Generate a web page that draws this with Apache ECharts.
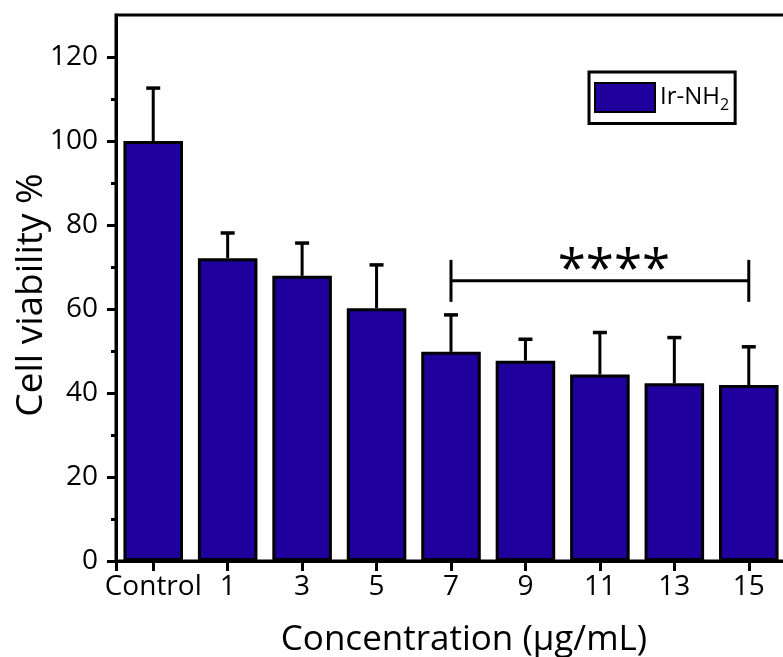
<!DOCTYPE html>
<html>
<head>
<meta charset="utf-8">
<script src="https://cdn.jsdelivr.net/npm/echarts@6/dist/echarts.min.js"></script>
<style>
  html, body { margin: 0; padding: 0; background: #fff; }
  #chart { width: 783px; height: 657px; }
</style>
</head>
<body>
<div id="chart"></div>
<script>
// Cell viability of Ir-NH2 at increasing concentrations (mean ± SD)
const categories = ['Control', '1', '3', '5', '7', '9', '11', '13', '15'];
const viability = [100, 72.1, 67.9, 60.2, 49.8, 47.7, 44.4, 42.3, 41.9];
const errors = [12.6, 6.0, 7.8, 10.3, 8.8, 5.1, 10.0, 10.9, 9.1];
const yMajorTicks = [0, 20, 40, 60, 80, 100, 120];
const yMinorTicks = [10, 30, 50, 70, 90, 110];
// significance bracket: from category index to category index, at value level
const bracketFrom = 4;
const bracketTo = 8;
const bracketLevel = 66.7;
const bracketArm = 5;
const bracketLabel = '****';

const FONT = 'Open Sans';
const BAR_COLOR = '#1f009c';

const idx = categories.map((_, i) => i);
const barData = idx.map(i => [i, viability[i]]);
const errData = idx.map(i => [i, viability[i], viability[i] + errors[i]]);

const chart = echarts.init(document.getElementById('chart'), null, { renderer: 'canvas' });

chart.setOption({
  animation: false,
  backgroundColor: '#fff',
  grid: {
    left: 116, top: 15, width: 670, height: 546,
    outerBoundsMode: 'none',
    containLabel: false,
    show: true, borderColor: '#000', borderWidth: 3
  },
  legend: {
    left: 589, top: 72,
    orient: 'vertical',
    padding: [10, 6, 10, 5],
    borderColor: '#000', borderWidth: 3,
    itemWidth: 60, itemHeight: 29, itemGap: 0,
    data: [{ name: 'Ir-NH2', icon: 'rect' }],
    formatter: () => '{a|Ir-NH}{b|2}',
    textStyle: {
      rich: {
        a: { fontFamily: FONT, fontSize: 24, color: '#000' },
        b: { fontFamily: FONT, fontSize: 16, color: '#000', padding: [16, 0, 0, 0] }
      }
    }
  },
  xAxis: [{
    type: 'value',
    min: -0.5, max: 8.5,
    splitLine: { show: false },
    axisLine: { show: true, onZero: false, lineStyle: { color: '#000', width: 3 } },
    axisTick: {
      show: true, length: 10, lineStyle: { color: '#000', width: 3 },
      customValues: [-0.5].concat(idx)
    },
    axisLabel: {
      customValues: idx,
      formatter: v => categories[Math.round(v)],
      fontFamily: FONT, fontSize: 28, color: '#000', margin: 12
    },
    name: 'Concentration (μg/mL)',
    nameLocation: 'middle',
    nameGap: 62,
    nameMoveOverlap: false,
    nameTextStyle: { fontFamily: FONT, fontSize: 35, color: '#000', padding: [0, 0, 0, 26] }
  }],
  yAxis: [{
    type: 'value',
    min: 0, max: 130,
    splitLine: { show: false },
    axisLine: { show: true, onZero: false, lineStyle: { color: '#000', width: 3 } },
    axisTick: {
      show: true, length: 9, lineStyle: { color: '#000', width: 3 },
      customValues: yMajorTicks
    },
    axisLabel: {
      customValues: yMajorTicks,
      fontFamily: FONT, fontSize: 28, color: '#000', margin: 18
    },
    name: 'Cell viability %',
    nameLocation: 'middle',
    nameGap: 66,
    nameMoveOverlap: false,
    nameRotate: 90,
    nameTextStyle: { fontFamily: FONT, fontSize: 37, color: '#000', padding: [0, 14, 0, 0] }
  }, {
    // minor ticks
    type: 'value',
    position: 'left',
    min: 0, max: 130,
    splitLine: { show: false },
    axisLine: { show: false, onZero: false },
    axisTick: {
      show: true, length: 5, lineStyle: { color: '#000', width: 3 },
      customValues: yMinorTicks
    },
    axisLabel: { show: false }
  }],
  series: [{
    name: 'sd',
    type: 'custom',
    z: 2,
    renderItem: (params, api) => {
      const x = api.value(0);
      const lo = api.coord([x, api.value(1)]);
      const hi = api.coord([x, api.value(2)]);
      const cap = 7;
      return {
        type: 'group',
        children: [
          { type: 'line', shape: { x1: lo[0], y1: lo[1], x2: hi[0], y2: hi[1] },
            style: { stroke: '#000', lineWidth: 3 } },
          { type: 'line', shape: { x1: hi[0] - cap, y1: hi[1], x2: hi[0] + cap, y2: hi[1] },
            style: { stroke: '#000', lineWidth: 3.5 } }
        ]
      };
    },
    encode: { x: 0, y: [1, 2] },
    data: errData
  }, {
    name: 'Ir-NH2',
    type: 'bar',
    z: 3,
    barWidth: '80%',
    itemStyle: { color: BAR_COLOR, borderColor: '#000', borderWidth: 3 },
    data: barData
  }, {
    name: 'bracket',
    type: 'custom',
    z: 4,
    renderItem: (params, api) => {
      const a = api.coord([api.value(0), api.value(2)]);
      const b = api.coord([api.value(1), api.value(2)]);
      const armTop = api.coord([api.value(0), api.value(2) + api.value(3)])[1];
      const armBot = api.coord([api.value(0), api.value(2) - api.value(3)])[1];
      const mid = (a[0] + b[0]) / 2;
      return {
        type: 'group',
        children: [
          { type: 'line', shape: { x1: a[0], y1: a[1], x2: b[0], y2: b[1] },
            style: { stroke: '#000', lineWidth: 3 } },
          { type: 'line', shape: { x1: a[0], y1: armTop, x2: a[0], y2: armBot },
            style: { stroke: '#000', lineWidth: 3 } },
          { type: 'line', shape: { x1: b[0], y1: armTop, x2: b[0], y2: armBot },
            style: { stroke: '#000', lineWidth: 3 } },
          { type: 'text', x: mid + 14, y: a[1] + 16,
            style: { text: bracketLabel, fontFamily: FONT, fontSize: 51, fill: '#000',
                     align: 'center', verticalAlign: 'bottom' } }
        ]
      };
    },
    data: [[bracketFrom, bracketTo, bracketLevel, bracketArm]]
  }]
});
</script>
</body>
</html>
